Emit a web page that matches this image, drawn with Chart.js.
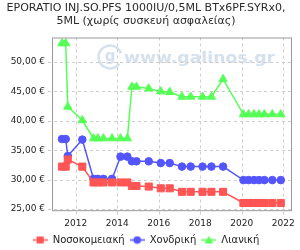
<!DOCTYPE html>
<html>
<head>
<meta charset="utf-8">
<script src="https://cdn.jsdelivr.net/npm/chart.js@4/dist/chart.umd.min.js"></script>
<style>
  html,body{margin:0;padding:0;background:#fff;}
  #c{display:block;}
</style>
</head>
<body>
<canvas id="c" width="300" height="250"></canvas>
<script>
/* ---------- data ---------- */
const titleLines=['EPORATIO INJ.SO.PFS 1000IU/0,5ML BTx6PF.SYRx0,','5ML (χωρίς συσκευή ασφαλείας)'];
const dates=[2011.34,2011.52,2011.62,2012.32,2012.86,2013.07,2013.34,2013.75,2014.16,2014.49,
             2014.71,2014.93,2015.52,2016.10,2016.53,2017.12,2017.54,2018.11,2018.54,2019.10,
             2020.08,2020.33,2020.59,2020.83,2021.09,2021.47,2021.88];
const hospital=[32.2,32.2,33.4,32.2,29.5,29.5,29.5,29.5,29.5,29.5,
                28.9,28.9,28.8,28.5,28.5,27.9,27.9,27.9,27.9,27.9,
                26.0,26.0,26.0,26.0,26.0,26.0,26.0];
const wholesale=[36.9,36.9,34.0,36.8,30.1,30.1,30.1,30.1,33.9,33.9,
                 33.1,33.1,33.1,32.8,32.8,32.2,32.2,32.2,32.2,32.2,
                 29.9,29.9,29.9,29.9,29.9,29.9,29.9];
const retail=[53.2,53.2,42.4,40.1,37.0,37.0,37.0,37.0,37.0,37.0,
              45.8,45.8,45.5,45.0,44.9,44.1,44.1,44.1,44.1,47.1,
              41.1,41.1,41.1,41.1,41.1,41.1,41.1];
const seriesNames=['Νοσοκομειακή','Χονδρική','Λιανική'];
const xTicks=[2012,2014,2016,2018,2020,2022];
const yTicks=[25,30,35,40,45,50];
const watermark='www.galinos.gr';

/* ---------- helpers ---------- */
const FONT='"DejaVu Sans", sans-serif';
const RED='#ff5555', BLUE='#5555ff', GREEN='#55ff55';
const pts=vals=>vals.map((v,i)=>({x:dates[i],y:v}));
const euro=v=>v.toFixed(2).replace('.',',')+' €';

function legendIcon(color,style){
  const cv=document.createElement('canvas');cv.width=15;cv.height=9;
  const g=cv.getContext('2d');
  g.strokeStyle=color;g.fillStyle=color;g.lineWidth=1.5;
  g.beginPath();g.moveTo(0,4.5);g.lineTo(15,4.5);g.stroke();
  g.beginPath();
  if(style==='rect') g.rect(4,1,7,7);
  else if(style==='circle') g.arc(7.5,4.5,3.8,0,Math.PI*2);
  else {g.moveTo(7.5,0.3);g.lineTo(11.8,8);g.lineTo(3.2,8);g.closePath();}
  g.fill();
  return cv;
}
const icons=[legendIcon(RED,'rect'),legendIcon(BLUE,'circle'),legendIcon(GREEN,'triangle')];

/* watermark, dashed grid, frame */
const decor={
  id:'decor',
  beforeDraw(chart){
    const {ctx}=chart;
    ctx.save();
    ctx.strokeStyle='#d6e1f0';ctx.fillStyle='#d6e1f0';ctx.lineWidth=2.5;
    ctx.beginPath();ctx.arc(110,57,11.5,0.2*Math.PI,1.9*Math.PI);ctx.stroke();
    ctx.font='bold 15px '+FONT;ctx.textAlign='center';ctx.textBaseline='alphabetic';
    ctx.fillText('g',110,61);
    ctx.font='bold 16px '+FONT;ctx.textAlign='left';
    const w=ctx.measureText(watermark).width;
    ctx.translate(124,63);ctx.scale(151/w,1);
    ctx.fillText(watermark,0,0);
    ctx.restore();
  },
  beforeDatasetsDraw(chart){
    const {ctx,chartArea:a,scales:{x,y}}=chart;
    ctx.save();ctx.strokeStyle='#cdcdcd';ctx.lineWidth=1;ctx.setLineDash([3,3]);
    ctx.beginPath();
    x.ticks.forEach(t=>{const px=Math.round(x.getPixelForValue(t.value))+0.5;
      ctx.moveTo(px,a.top);ctx.lineTo(px,a.bottom+4);});
    y.ticks.forEach(t=>{const py=Math.round(y.getPixelForValue(t.value))+0.5;
      ctx.moveTo(a.left-4,py);ctx.lineTo(a.right,py);});
    ctx.stroke();ctx.restore();
  },
  afterDatasetsDraw(chart){
    const {ctx,chartArea:a}=chart;
    ctx.save();ctx.strokeStyle='#999';ctx.lineWidth=1;
    ctx.strokeRect(a.left+0.5,a.top+0.5,a.right-a.left-1,a.bottom-a.top-1);
    ctx.restore();
  }
};

/* ---------- chart ---------- */
const mk=(label,vals,color,style,r)=>({
  label,data:pts(vals),borderColor:color,backgroundColor:color,
  borderWidth:1.5,pointStyle:style,pointRadius:r,pointHoverRadius:r,
  pointBorderWidth:1,pointBackgroundColor:color,pointBorderColor:color
});
const gridOpts={color:'rgba(0,0,0,0)',tickLength:4};

new Chart(document.getElementById('c'),{
  type:'line',
  data:{datasets:[
    mk(seriesNames[0],hospital,RED,'rect',5),
    mk(seriesNames[1],wholesale,BLUE,'circle',3.8),
    mk(seriesNames[2],retail,GREEN,'triangle',4.8)
  ]},
  options:{
    responsive:false,animation:false,
    layout:{padding:{left:0,right:8,top:0,bottom:-5}},
    plugins:{
      title:{display:true,text:titleLines,color:'#2a2a2a',
        font:{family:FONT,size:11,weight:'normal',lineHeight:1.25},
        padding:{top:1,bottom:9}},
      legend:{position:'bottom',
        labels:{usePointStyle:true,pointStyleWidth:15,padding:5,color:'#222',
          font:{family:FONT,size:10},
          generateLabels:ch=>ch.data.datasets.map((d,i)=>({
            text:d.label,pointStyle:icons[i],fillStyle:d.borderColor,
            strokeStyle:d.borderColor,lineWidth:0,datasetIndex:i,fontColor:'#222'}))}},
      tooltip:{enabled:false}
    },
    scales:{
      x:{type:'linear',min:2010.86,max:2022.42,
        afterBuildTicks:s=>{s.ticks=xTicks.map(v=>({value:v}));},
        afterFit:s=>{s.height-=2;},
        ticks:{color:'#222',font:{family:FONT,size:9},maxRotation:0,
          callback:v=>String(v)},
        grid:gridOpts,
        border:{display:false}
      },
      y:{min:24.6,max:54.2,
        afterBuildTicks:s=>{s.ticks=yTicks.map(v=>({value:v}));},
        afterFit:s=>{s.width=52;},
        ticks:{color:'#222',font:{family:FONT,size:9},callback:v=>euro(v)},
        grid:gridOpts,
        border:{display:false}
      }
    }
  },
  plugins:[decor]
});
</script>
</body>
</html>
